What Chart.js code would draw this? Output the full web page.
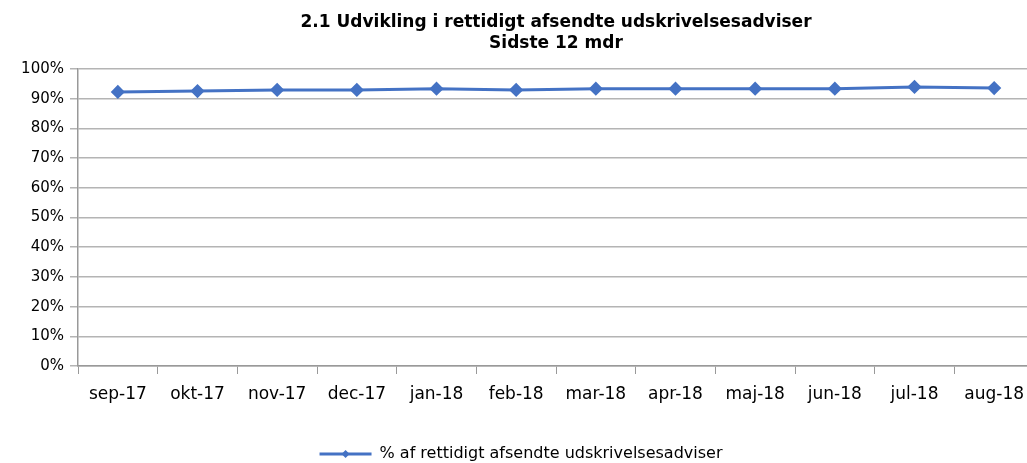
<!DOCTYPE html>
<html><head><meta charset="utf-8">
<script src="https://cdn.jsdelivr.net/npm/chart.js@4/dist/chart.umd.min.js"></script>
<style>html,body{margin:0;padding:0;background:#fff;overflow:hidden}#w{width:1042px;height:472px}</style>
</head><body><div id="w"><canvas id="c"></canvas></div>
<script>
const categories = ["sep-17","okt-17","nov-17","dec-17","jan-18","feb-18","mar-18","apr-18","maj-18","jun-18","jul-18","aug-18"];
const seriesValues = [92.3,92.6,93.0,93.0,93.4,93.0,93.4,93.4,93.4,93.4,94.0,93.6];
const seriesLabel = "% af rettidigt afsendte udskrivelsesadviser";
const titleLines = ["2.1 Udvikling i rettidigt afsendte udskrivelsesadviser","Sidste 12 mdr"];
const blue = "#4472C4";
const legendDiamond = {
  id:'legendDiamond',
  afterDraw(chart){
    const lg = chart.legend; if(!lg || !lg.legendHitBoxes) return;
    const ctx = chart.ctx;
    lg.legendHitBoxes.forEach(b=>{
      const cx = b.left + 26, cy = b.top + b.height/2;
      ctx.save(); ctx.fillStyle = blue; ctx.beginPath();
      ctx.moveTo(cx, cy-4); ctx.lineTo(cx+4, cy); ctx.lineTo(cx, cy+4); ctx.lineTo(cx-4, cy); ctx.closePath(); ctx.fill(); ctx.restore();
    });
  }
};
new Chart(document.getElementById('c'), {
  type:'line',
  data:{labels:categories, datasets:[{label:seriesLabel, data:seriesValues, borderColor:blue, backgroundColor:blue, borderWidth:3, pointStyle:'rectRot', pointRadius:5, pointHoverRadius:5, tension:0}]},
  options:{
    responsive:true, maintainAspectRatio:false, animation:false,
    layout:{padding:{left:0,right:0,top:0,bottom:0}},
    plugins:{
      title:{display:true, text:titleLines, fullSize:false, color:'#000', font:{family:'DejaVu Sans', size:17, weight:'bold', lineHeight:1.18}, padding:{top:13,bottom:16}},
      legend:{position:'bottom', labels:{color:'#000', font:{family:'DejaVu Sans', size:16}, boxWidth:52, boxHeight:3, padding:0, generateLabels(chart){return [{text:seriesLabel, fillStyle:blue, strokeStyle:blue, lineWidth:0, datasetIndex:0}];}}},
      tooltip:{enabled:false}
    },
    scales:{
      x:{offset:true, grid:{display:true, drawOnChartArea:false, drawTicks:true, tickLength:8, offset:true, color:'#999'}, border:{color:'#999', width:1.5}, ticks:{color:'#000', font:{family:'DejaVu Sans', size:17}, padding:10, maxRotation:0, autoSkip:false}, afterFit(s){s.height=80;}},
      y:{min:0, max:100, ticks:{stepSize:10, color:'#000', font:{family:'DejaVu Sans', size:15}, padding:6, callback:v=>v+'%'}, grid:{color:'#b4b4b4', lineWidth:1.5, tickLength:8, drawTicks:true}, border:{color:'#999', width:1.5}, afterFit(s){s.width=78;}}
    }
  },
  plugins:[legendDiamond]
});
</script></body></html>
